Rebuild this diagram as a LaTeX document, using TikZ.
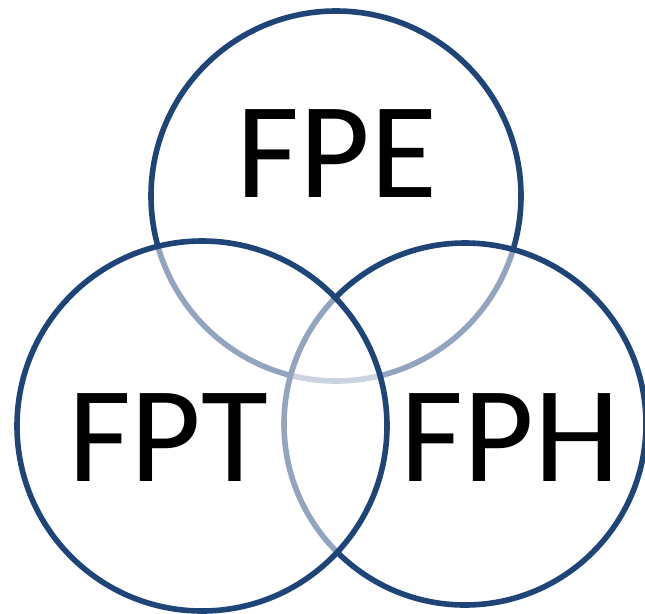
\documentclass[tikz,border=0pt]{standalone}
\usepackage{fontspec}
\setmainfont{Carlito}
\definecolor{ringblue}{HTML}{1F4478}
\begin{document}
\begin{tikzpicture}[x=1pt,y=-1pt,
  ring/.style={circle,draw=ringblue,line width=5.6pt,fill=white,fill opacity=0.52,draw opacity=1,inner sep=0pt,text opacity=1},
  label/.style={font=\fontsize{137}{137}\selectfont,text=black,inner sep=0pt,anchor=center}]
\useasboundingbox (0,0) rectangle (645,613);
\fill[white] (0,0) rectangle (645,613);
\node[ring,minimum size=370pt] (top) at (336,196) {};
\node[ring,minimum size=362pt] (right) at (465,424) {};
\node[ring,minimum size=370pt] (left) at (202,426) {};
\node[label] (fpe) at (337,154) {FPE};
\node[label] (fpt) at (168,438) {FPT};
\node[label] (fph) at (510,438) {FPH};
\end{tikzpicture}
\end{document}
